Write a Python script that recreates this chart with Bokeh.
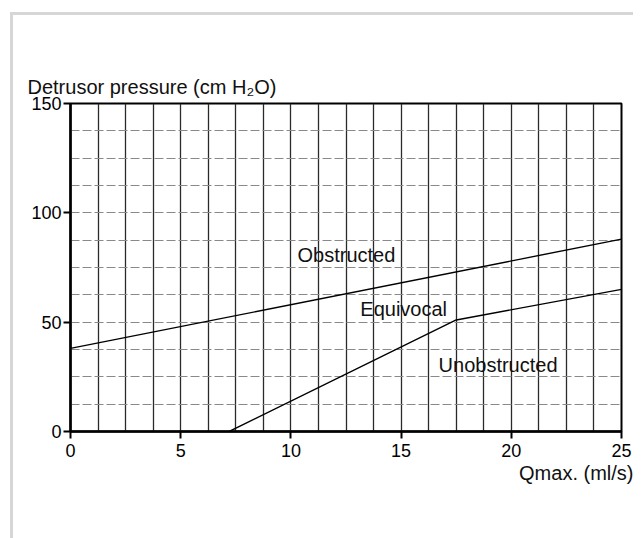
from bokeh.plotting import figure
from bokeh.models import Range1d, FixedTicker, Title, ColumnDataSource, Column
from bokeh.core.properties import value
from bokeh.embed import file_html
from bokeh.resources import INLINE

# --- data ---
x_ticks = [0, 5, 10, 15, 20, 25]
y_ticks = [0, 50, 100, 150]
x_grid = [1.25, 2.5, 3.75, 5, 6.25, 7.5, 8.75, 10, 11.25, 12.5, 13.75, 15,
          16.25, 17.5, 18.75, 20, 21.25, 22.5, 23.75]
y_grid = [12.5, 25, 37.5, 50, 62.5, 75, 87.5, 100, 112.5, 125, 137.5]

upper_q = [0, 25]
upper_p = [38, 88]
lower_q = [7.2, 17.5, 25]
lower_p = [0, 51, 65]

region_names = ["Obstructed", "Equivocal", "Unobstructed"]
region_q = [10.3, 13.15, 16.7]
region_p = [80.5, 56, 30.5]

y_title = "Detrusor pressure (cm H\u2082O)"
x_title = "Qmax. (ml/s)"

FONT = "Liberation Sans"

p = figure(width=620, height=523, output_backend="svg", toolbar_location=None,
           x_range=Range1d(0, 25), y_range=Range1d(0, 150),
           min_border_left=57, min_border_right=12, min_border_top=88, min_border_bottom=107)
p.background_fill_color = "white"
p.border_fill_color = "white"
p.outline_line_color = "black"
p.outline_line_width = 2

# grids
p.xgrid.ticker = FixedTicker(ticks=x_grid)
p.xgrid.grid_line_color = "#2a2a2a"
p.xgrid.grid_line_width = 1.3
p.ygrid.ticker = FixedTicker(ticks=y_grid)
p.ygrid.grid_line_color = "#8a8a8a"
p.ygrid.grid_line_width = 1
p.ygrid.grid_line_dash = "9 3"

for ax, ticks in ((p.xaxis[0], x_ticks), (p.yaxis[0], y_ticks)):
    ax.ticker = FixedTicker(ticks=ticks)
    ax.axis_line_width = 2.5
    ax.axis_line_color = "black"
    ax.major_tick_line_width = 2
    ax.major_tick_line_color = "black"
    ax.major_tick_out = 7
    ax.major_tick_in = 0
    ax.minor_tick_line_color = None
    ax.major_label_text_font = FONT
    ax.major_label_text_font_size = "18px"
    ax.major_label_text_color = "black"
p.xaxis.major_label_standoff = 5
p.yaxis.major_label_standoff = 2

# boundary lines
p.line(upper_q, upper_p, line_color="black", line_width=1.4)
p.line(lower_q, lower_p, line_color="black", line_width=1.4)

src = ColumnDataSource(dict(x=region_q, y=region_p, t=region_names))
p.text(x="x", y="y", text="t", source=src, text_font=value(FONT),
       text_font_size="20px", text_baseline="middle", text_align="left", text_color="#111")

p.title = Title(text=y_title, align="left", offset=-43, text_font=FONT,
                text_font_size="20px", text_font_style="normal", text_color="#111",
                standoff=12)
p.add_layout(Title(text=x_title, align="right", offset=-12, text_font=FONT,
                   text_font_size="20px", text_font_style="normal", text_color="#111",
                   standoff=0), "below")

layout = Column(p, styles={"margin-left": "10px", "margin-top": "12px",
                           "border-left": "3px solid #d6d6d6",
                           "border-top": "3px solid #d6d6d6"})

open("out.html", "w").write(file_html(layout, INLINE))
